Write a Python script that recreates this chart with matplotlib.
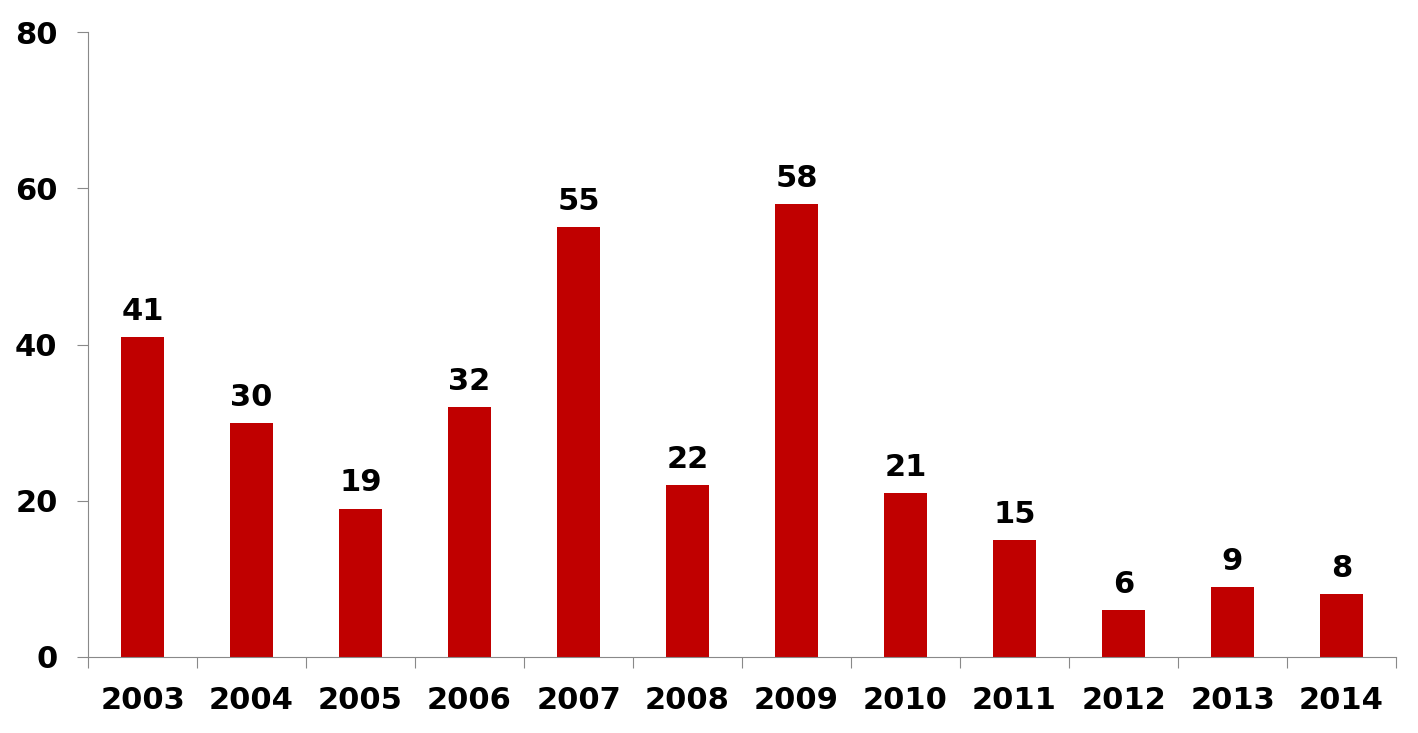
import matplotlib
matplotlib.use('Agg')
import matplotlib.pyplot as plt

years = ['2003', '2004', '2005', '2006', '2007', '2008',
         '2009', '2010', '2011', '2012', '2013', '2014']
counts = [41, 30, 19, 32, 55, 22, 58, 21, 15, 6, 9, 8]

BAR_COLOR = '#C00000'
AXIS_COLOR = '#898989'

plt.rcParams['font.family'] = ['DejaVu Sans']
plt.rcParams['font.weight'] = 'bold'

fig = plt.figure(figsize=(14.18, 7.33), dpi=100)
ax = fig.add_axes([0.0621, 0.1037, 0.9224, 0.8526])

x = list(range(len(years)))
bars = ax.bar(x, counts, width=0.4, color=BAR_COLOR, zorder=2)

for xi, v in zip(x, counts):
    ax.annotate(str(v), (xi, v), xytext=(0, 8), textcoords='offset points',
                ha='center', va='bottom', fontsize=22, fontweight='bold')

ax.set_xlim(-0.5, len(years) - 0.5)
ax.set_ylim(0, 80)
ax.set_yticks([0, 20, 40, 60, 80])
ax.set_yticklabels(['0', '20', '40', '60', '80'], fontsize=22, fontweight='bold')

# category labels centred, ticks at category boundaries
ax.set_xticks(x)
ax.set_xticklabels(years, fontsize=22, fontweight='bold')
ax.tick_params(axis='x', which='major', length=0, pad=21)
ax.set_xticks([i - 0.5 for i in range(len(years) + 1)], minor=True)
ax.tick_params(axis='x', which='minor', length=8, width=0.8, color=AXIS_COLOR, direction='out')
ax.tick_params(axis='y', length=8, width=0.8, color=AXIS_COLOR, direction='out', pad=14)

for side in ['top', 'right']:
    ax.spines[side].set_visible(False)
for side in ['left', 'bottom']:
    ax.spines[side].set_color(AXIS_COLOR)
    ax.spines[side].set_linewidth(0.8)

fig.savefig('out.png', dpi=100)
